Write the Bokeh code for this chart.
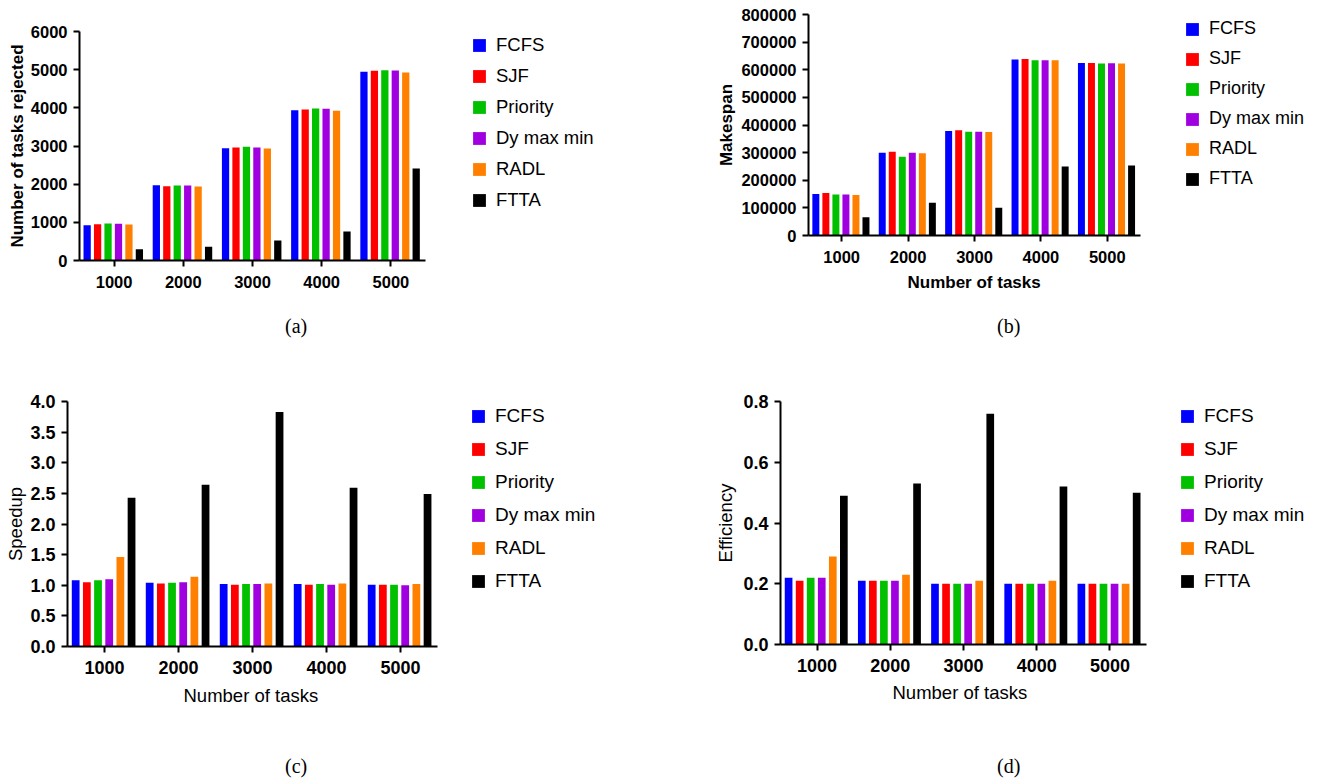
from bokeh.plotting import figure
from bokeh.models import (Range1d, Legend, LegendItem, Title, Div,
                          ColumnDataSource, NumeralTickFormatter, FixedTicker)
from bokeh.layouts import row, column
from bokeh.embed import file_html
from bokeh.resources import INLINE

# ---------------- data ----------------
tasks = ["1000", "2000", "3000", "4000", "5000"]
series = ["FCFS", "SJF", "Priority", "Dy max min", "RADL", "FTTA"]
colors = ["#0000FF", "#FF0000", "#00C000", "#A000E0", "#FF8000", "#000000"]

# (a) Number of tasks rejected
rej_fcfs = [926, 1974, 2943, 3939, 4943]
rej_sjf = [952, 1948, 2961, 3956, 4969]
rej_priority = [969, 1965, 2978, 3983, 4987]
rej_dymaxmin = [961, 1965, 2961, 3974, 4978]
rej_radl = [943, 1939, 2934, 3921, 4926]
rej_ftta = [297, 358, 524, 760, 2410]
rej_ticks = [0, 1000, 2000, 3000, 4000, 5000, 6000]

# (b) Makespan
mk_fcfs = [149800, 299700, 378200, 636900, 624700]
mk_sjf = [153500, 303300, 380700, 639300, 624700]
mk_priority = [148600, 285200, 375800, 634400, 622300]
mk_dymaxmin = [148600, 299700, 375800, 634400, 623500]
mk_radl = [146200, 297300, 374600, 634400, 622300]
mk_ftta = [66500, 118400, 100300, 250200, 253800]
mk_ticks = [0, 100000, 200000, 300000, 400000, 500000, 600000, 700000, 800000]

# (c) Speedup
sp_fcfs = [1.08, 1.04, 1.02, 1.02, 1.01]
sp_sjf = [1.05, 1.03, 1.01, 1.01, 1.01]
sp_priority = [1.08, 1.04, 1.02, 1.02, 1.01]
sp_dymaxmin = [1.10, 1.05, 1.02, 1.01, 1.00]
sp_radl = [1.46, 1.14, 1.03, 1.03, 1.02]
sp_ftta = [2.43, 2.64, 3.83, 2.59, 2.49]
sp_ticks = [0.0, 0.5, 1.0, 1.5, 2.0, 2.5, 3.0, 3.5, 4.0]

# (d) Efficiency
ef_fcfs = [0.22, 0.21, 0.20, 0.20, 0.20]
ef_sjf = [0.21, 0.21, 0.20, 0.20, 0.20]
ef_priority = [0.22, 0.21, 0.20, 0.20, 0.20]
ef_dymaxmin = [0.22, 0.21, 0.20, 0.20, 0.20]
ef_radl = [0.29, 0.23, 0.21, 0.21, 0.20]
ef_ftta = [0.49, 0.53, 0.76, 0.52, 0.50]
ef_ticks = [0.0, 0.2, 0.4, 0.6, 0.8]

x_title = "Number of tasks"

SANS = "Liberation Sans"
SERIF = "Liberation Serif"
NG = len(tasks)


def make_panel(vals, ticks, fmt, ylabel, xlabel, label_bold, tick_size, label_size,
               fig_w, fig_h, bl, bt, fw, fh, data_w, ylab_standoff, xtick_standoff,
               xlab_offset, xlab_standoff,
               leg_xy, leg_spacing, leg_size):
    x_end = NG * fw / data_w
    p = figure(x_range=Range1d(0, x_end),
               y_range=Range1d(ticks[0], ticks[-1]),
               width=fig_w, height=fig_h,
               min_border_left=bl, min_border_top=bt,
               min_border_right=fig_w - bl - fw, min_border_bottom=fig_h - bt - fh,
               output_backend="svg", toolbar_location=None)
    p.outline_line_color = None
    p.xgrid.visible = False
    p.ygrid.visible = False
    p.background_fill_color = "white"
    p.border_fill_color = "white"

    group_idx = list(range(NG))
    pitch = 0.151
    items = []
    for k, (name, col, v) in enumerate(zip(series, colors, vals)):
        off = 0.5 + (k - 2.5) * pitch - 0.012
        source = ColumnDataSource({"x": [g + off for g in group_idx], "top": v})
        r = p.vbar(x="x", top="top", width=0.105, source=source,
                   fill_color=col, line_color=None)
        items.append(LegendItem(label=name, renderers=[r]))

    for ax in (p.xaxis[0], p.yaxis[0]):
        ax.axis_line_width = 2
        ax.axis_line_color = "black"
        ax.major_tick_line_width = 2
        ax.major_tick_line_color = "black"
        ax.major_tick_out = 6
        ax.major_tick_in = 0
        ax.minor_tick_line_color = None
        ax.major_label_text_font = SANS
        ax.major_label_text_font_style = "bold"
        ax.major_label_text_font_size = tick_size
        ax.major_label_text_color = "black"
        ax.axis_label_text_font = SANS
        ax.axis_label_text_font_style = "bold" if label_bold else "normal"
        ax.axis_label_text_font_size = label_size
        ax.axis_label_text_color = "black"
    p.yaxis[0].ticker = FixedTicker(ticks=ticks)
    p.yaxis[0].formatter = NumeralTickFormatter(format=fmt)
    p.yaxis[0].major_label_standoff = 6
    p.yaxis[0].axis_label = ylabel
    p.yaxis[0].axis_label_standoff = ylab_standoff

    xt = [g + 0.5 for g in group_idx]
    p.xaxis[0].ticker = FixedTicker(ticks=xt)
    p.xaxis[0].major_label_overrides = {t: lab for t, lab in zip(xt, tasks)}
    p.xaxis[0].bounds = (0, NG)
    p.xaxis[0].major_label_standoff = xtick_standoff

    if xlabel:
        p.add_layout(Title(text=xlabel, align="left", offset=xlab_offset,
                           standoff=xlab_standoff, text_font=SANS,
                           text_font_size=label_size,
                           text_font_style="bold" if label_bold else "normal",
                           text_color="black"), "below")

    leg = Legend(items=items, location=leg_xy, glyph_width=16, glyph_height=16,
                 label_standoff=9, spacing=leg_spacing, padding=0, margin=0,
                 border_line_color=None, background_fill_alpha=0,
                 label_text_font=SANS, label_text_font_size=leg_size,
                 label_text_color="black")
    p.add_layout(leg)
    return p


def caption(text, w, h, left, top):
    html = ('<div style="margin-left:%dpx;margin-top:%dpx;font-family:\'Liberation Serif\';'
            'font-size:20px;line-height:24px;color:black;white-space:nowrap;">%s</div>'
            % (left, top, text))
    return Div(text=html, width=w, height=h, margin=0)


pa = make_panel([rej_fcfs, rej_sjf, rej_priority, rej_dymaxmin, rej_radl, rej_ftta],
                rej_ticks, "0", "Number of tasks rejected", None, True, "16.5px", "17px",
                661, 310, 79, 31, 572, 229, 346, 1, 9, 0, 0,
                (392, 49), 9, "18.5px")

pb = make_panel([mk_fcfs, mk_sjf, mk_priority, mk_dymaxmin, mk_radl, mk_ftta],
                mk_ticks, "0", "Makespan", x_title, True, "16.5px", "17px",
                661, 310, 147, 14, 509, 221, 332, 2, 9, 99, 10,
                (376, 46), 9, "18px")

pc = make_panel([sp_fcfs, sp_sjf, sp_priority, sp_dymaxmin, sp_radl, sp_ftta],
                sp_ticks, "0.0", "Speedup", x_title, False, "18px", "18.5px",
                661, 380, 67, 29, 584, 245, 370, 1, 8, 116, 12,
                (403, 54), 11, "19px")

pd_ = make_panel([ef_fcfs, ef_sjf, ef_priority, ef_dymaxmin, ef_radl, ef_ftta],
                 ef_ticks, "0.0", "Efficiency", x_title, False, "18px", "18.5px",
                 661, 380, 119, 29, 537, 243, 366, 4, 8, 112, 10,
                 (399, 52), 11, "19px")

cap_a = caption("(a)", 661, 62, 285, 4)
cap_b = caption("(b)", 661, 62, 336, 4)
cap_c = caption("(c)", 661, 27, 285, 2)
cap_d = caption("(d)", 661, 27, 336, 2)

layout = column(row(column(pa, cap_a), column(pb, cap_b)),
                row(column(pc, cap_c), column(pd_, cap_d)))

open("out.html", "w").write(file_html(layout, INLINE))
